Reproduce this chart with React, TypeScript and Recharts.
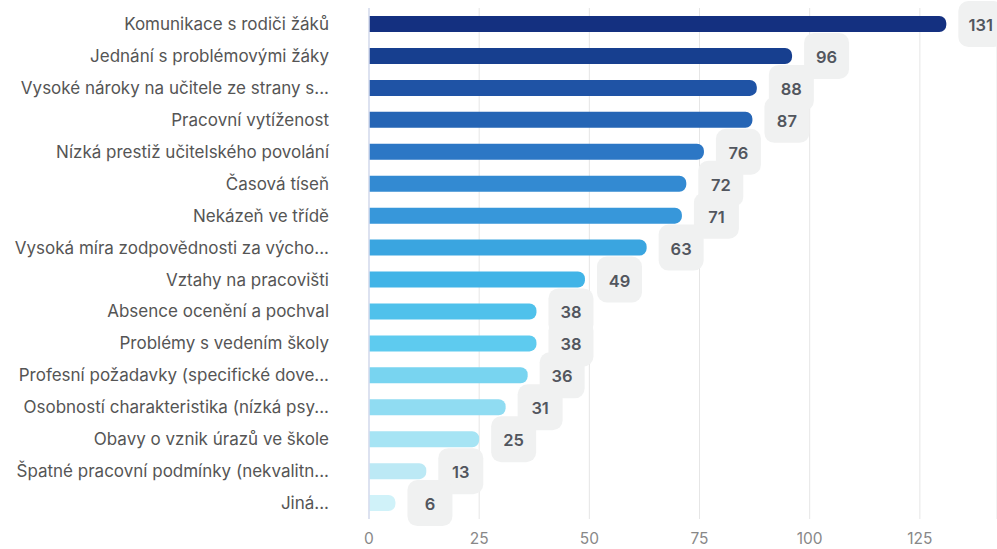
import { BarChart, Bar, XAxis, YAxis, CartesianGrid, Cell, LabelList } from 'recharts'

const categories = [
  'Komunikace s rodiči žáků',
  'Jednání s problémovými žáky',
  'Vysoké nároky na učitele ze strany s...',
  'Pracovní vytíženost',
  'Nízká prestiž učitelského povolání',
  'Časová tíseň',
  'Nekázeň ve třídě',
  'Vysoká míra zodpovědnosti za výcho...',
  'Vztahy na pracovišti',
  'Absence ocenění a pochval',
  'Problémy s vedením školy',
  'Profesní požadavky (specifické dove...',
  'Osobností charakteristika (nízká psy...',
  'Obavy o vznik úrazů ve škole',
  'Špatné pracovní podmínky (nekvalitn...',
  'Jiná...',
]

const values = [131, 96, 88, 87, 76, 72, 71, 63, 49, 38, 38, 36, 31, 25, 13, 6]

const colors = [
  '#143080', '#173f8f', '#1f53a5', '#2565b5', '#2c77c5', '#338ad2', '#3797da', '#3aa5e0',
  '#41b4e7', '#4fc1eb', '#5ecbef', '#78d4f0', '#90dcf2', '#a6e4f4', '#bce9f5', '#d0f2f9',
]

const xTicks = [0, 25, 50, 75, 100, 125]

const data = categories.map((name, i) => ({ name, value: values[i] }))

const FONT = 'Inter, "Noto Sans", sans-serif'

// grey rounded badge next to the bar end
function ValueBadge(props: any) {
  const { x, y, width, height, value } = props
  const bx = x + width + 12
  const cy = y + height / 2
  return (
    <g>
      <rect x={bx} y={cy - 23} width={45} height={46} rx={10} ry={10} fill="#f0f1f1" />
      <text
        x={bx + 22.5}
        y={cy + 1}
        textAnchor="middle"
        dominantBaseline="central"
        fontFamily={FONT}
        fontSize={16.5}
        fontWeight={600}
        fill="#52565e"
      >
        {value}
      </text>
    </g>
  )
}

export default function App() {
  return (
    <div style={{ position: 'absolute', left: 0, top: 0, width: 997, height: 549, background: '#fff' }}>
      <BarChart
        width={997}
        height={549}
        data={data}
        layout="vertical"
        margin={{ top: 8, right: 0, bottom: 0, left: 0 }}
        barCategoryGap={0}
      >
        <CartesianGrid horizontal={false} stroke="#e6e6e6" strokeWidth={1} />
        <XAxis
          type="number"
          domain={[0, 142.5]}
          ticks={xTicks}
          axisLine={false}
          tickLine={false}
          tickSize={0}
          tickMargin={14}
          height={30}
          tick={{ fontSize: 15.5, fill: '#888', fontFamily: FONT }}
        />
        <YAxis
          type="category"
          dataKey="name"
          width={369}
          tickLine={false}
          tickSize={0}
          tickMargin={40}
          axisLine={{ stroke: '#d6dcef', strokeWidth: 1.5 }}
          interval={0}
          tick={{ fontSize: 17, fill: '#555', fontFamily: FONT }}
        />
        <Bar dataKey="value" barSize={16} radius={[0, 7, 7, 0]} isAnimationActive={false}>
          {data.map((d, i) => (
            <Cell key={d.name} fill={colors[i]} />
          ))}
          <LabelList dataKey="value" content={<ValueBadge />} />
        </Bar>
      </BarChart>
    </div>
  )
}
